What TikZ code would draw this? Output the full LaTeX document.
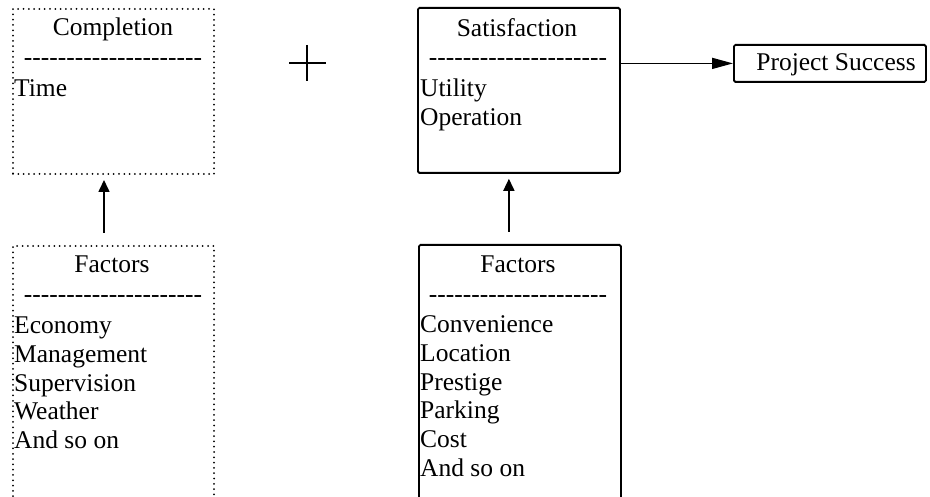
\documentclass[tikz,border=0pt]{standalone}
\usepackage{fontspec}
\setmainfont{Liberation Serif}
\usetikzlibrary{arrows.meta}
\newcommand\hyrow{\foreach \k in {1,...,21}{-\kern0pt}}
\begin{document}
\begin{tikzpicture}[x=1pt,y=-1pt,
  solidbox/.style={draw, line width=1.8pt, rounded corners=1.5pt, inner sep=0pt, anchor=north west},
  dotbox/.style={draw, line width=2pt, dash pattern=on 0pt off 5.3pt, line cap=round, inner sep=0pt, anchor=north west},
  txt/.style={inner sep=0pt, font=\fontsize{25.5}{29}\selectfont, anchor=base west},
  hdr/.style={inner sep=0pt, font=\fontsize{25.5}{29}\selectfont, anchor=base},
  uplink/.style={line width=1.6pt, -{Triangle[length=12pt,width=11pt]}},
  sidelink/.style={line width=1.6pt, -{Triangle[length=21pt,width=11pt]}}]
\useasboundingbox (0,0) rectangle (930,497);
\clip (0,0) rectangle (930,497);

% boxes
\node[dotbox, minimum width=201pt, minimum height=165pt] (comp) at (12,8) {};
\node[dotbox, minimum width=201pt, minimum height=270pt] (fl) at (12,245) {};
\node[solidbox, minimum width=202pt, minimum height=165pt] (sat) at (417,7) {};
\node[solidbox, minimum width=202pt, minimum height=270pt] (fr) at (418,244) {};
\node[solidbox, minimum width=192pt, minimum height=37pt] (ps) at (733,44) {};

% texts: Completion
\node[hdr] (comph) at (113,35.5) {Completion};
\node[hdr] (compd) at (113,66) {\hyrow};
\node[txt] (compt) at (14,96.5) {Time};

% Satisfaction
\node[hdr] (sath) at (517,37) {Satisfaction};
\node[hdr] (satd) at (518,66) {\hyrow};
\node[txt] (sat1) at (420,96.5) {Utility};
\node[txt] (sat2) at (420,125.5) {Operation};

% Left factors
\node[hdr] (flh) at (112,273) {Factors};
\node[hdr] (fld) at (113,303) {\hyrow};
\foreach \t [count=\i] in {Economy,Management,Supervision,Weather,And so on}
  \node[txt] (fl\i) at (14,{334+28.6*(\i-1)}) {\t};

% Right factors
\node[hdr] (frh) at (518,273) {Factors};
\node[hdr] (frd) at (518,303) {\hyrow};
\foreach \t [count=\i] in {Convenience,Location,Prestige,Parking,Cost,And so on}
  \node[txt] (fr\i) at (420,{333+28.6*(\i-1)}) {\t};

% Project Success
\node[hdr] (pst) at (836,70.5) {Project Success};

% plus sign
\draw[line width=1.7pt] (289,63) -- (326,63) (307,45) -- (307,81);

% connectors
\draw[uplink, shorten <=12pt, shorten >=5pt] ([xshift=-9.5pt]fl.north) -- ([xshift=-9.5pt]comp.south);
\draw[uplink, shorten <=12pt, shorten >=5pt] ([xshift=-11pt]fr.north) -- ([xshift=-10pt]sat.south);
\draw[sidelink] (sat.east |- ps.west) -- (ps.west);
\end{tikzpicture}
\end{document}
